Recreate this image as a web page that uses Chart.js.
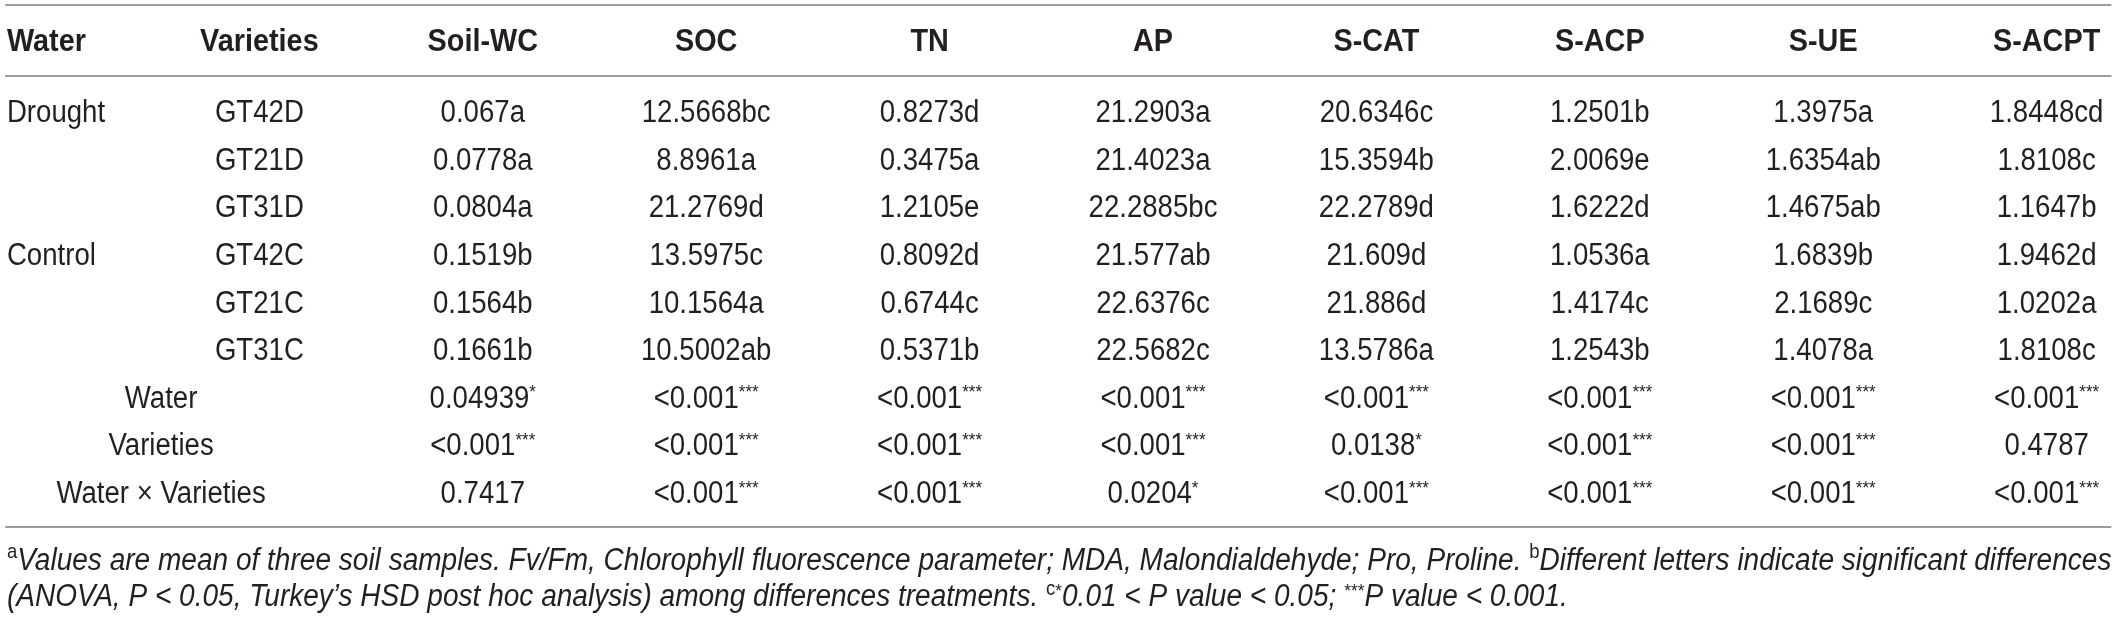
<!DOCTYPE html>
<html>
<head>
<meta charset="utf-8">
<style>
  html, body { margin: 0; padding: 0; background: #fff; }
  #tableChart { display: block; }
</style>
</head>
<body>
<canvas id="tableChart" width="2117" height="618"></canvas>
<script src="https://cdn.jsdelivr.net/npm/chart.js@4.4.1/dist/chart.umd.min.js"></script>
<script>
// table content
const columns = ['Water', 'Varieties', 'Soil-WC', 'SOC', 'TN', 'AP', 'S-CAT', 'S-ACP', 'S-UE', 'S-ACPT'];
const waterLevels = ['Drought', '', '', 'Control', '', ''];
const varieties = ['GT42D', 'GT21D', 'GT31D', 'GT42C', 'GT21C', 'GT31C'];
const effects = ['Water', 'Varieties', 'Water × Varieties'];

// six treatment means, then p values for Water, Varieties, Water x Varieties
const soilWC = ['0.067a', '0.0778a', '0.0804a', '0.1519b', '0.1564b', '0.1661b', '0.04939*', '<0.001***', '0.7417'];
const soc = ['12.5668bc', '8.8961a', '21.2769d', '13.5975c', '10.1564a', '10.5002ab', '<0.001***', '<0.001***', '<0.001***'];
const tn = ['0.8273d', '0.3475a', '1.2105e', '0.8092d', '0.6744c', '0.5371b', '<0.001***', '<0.001***', '<0.001***'];
const ap = ['21.2903a', '21.4023a', '22.2885bc', '21.577ab', '22.6376c', '22.5682c', '<0.001***', '<0.001***', '0.0204*'];
const sCAT = ['20.6346c', '15.3594b', '22.2789d', '21.609d', '21.886d', '13.5786a', '<0.001***', '0.0138*', '<0.001***'];
const sACP = ['1.2501b', '2.0069e', '1.6222d', '1.0536a', '1.4174c', '1.2543b', '<0.001***', '<0.001***', '<0.001***'];
const sUE = ['1.3975a', '1.6354ab', '1.4675ab', '1.6839b', '2.1689c', '1.4078a', '<0.001***', '<0.001***', '<0.001***'];
const sACPT = ['1.8448cd', '1.8108c', '1.1647b', '1.9462d', '1.0202a', '1.8108c', '<0.001***', '0.4787', '<0.001***'];

const noteLine1 = [
  ['a', 'sup'],
  ['Values are mean of three soil samples. Fv/Fm, Chlorophyll fluorescence parameter; MDA, Malondialdehyde; Pro, Proline. ', 'it'],
  ['b', 'sup'],
  ['Different letters indicate significant differences', 'it']
];
const noteLine2 = [
  ['(ANOVA, P < 0.05, Turkey\u2019s HSD post hoc analysis) among differences treatments. ', 'it'],
  ['c', 'sup'],
  ['*', 'star'],
  ['0.01 < P value < 0.05; ', 'it'],
  ['***', 'star'],
  ['P value < 0.001.', 'it']
];

const valueColumns = [soilWC, soc, tn, ap, sCAT, sACP, sUE, sACPT];

// layout in scale units (x = column index, y = row index)
const waterAnchor = -0.13;    // left edge of first column
const effectAnchor = 0.56;    // centre of the merged Water/Varieties cells
const rowsAt = { topRule: -2.23, header: -1.5, headRule: -0.74, bottomRule: 8.74, note1: 9.4, note2: 10.17 };

const FONT = '"Liberation Sans", Arial, Helvetica, sans-serif';
const TEXT = '#231f20';
const SIZE = 31;

function splitStars(s) {
  const m = s.match(/^(.*?)(\*+)$/);
  return m ? [[m[1], ''], [m[2], 'star']] : [[s, '']];
}

function partFont(kind, bold) {
  if (kind === 'sup') return (SIZE * 0.66) + 'px ' + FONT;
  if (kind === 'star') return (SIZE * 0.62) + 'px ' + FONT;
  return (kind === 'it' ? 'italic ' : '') + (bold ? 'bold ' : '') + SIZE + 'px ' + FONT;
}

function richWidth(ctx, parts, bold) {
  let w = 0;
  parts.forEach(p => { ctx.font = partFont(p[1], bold); w += ctx.measureText(p[0]).width; });
  return w;
}

function drawRich(ctx, parts, x, y, align, hs, bold) {
  const w = richWidth(ctx, parts, bold) * hs;
  let left = x;
  if (align === 'center') left = x - w / 2;
  else if (align === 'right') left = x - w;
  ctx.save();
  ctx.translate(left, y + SIZE * 0.358);
  ctx.scale(hs, 1);
  ctx.fillStyle = TEXT;
  ctx.textBaseline = 'alphabetic';
  ctx.textAlign = 'left';
  let cx = 0;
  parts.forEach(p => {
    ctx.font = partFont(p[1], bold);
    let dy = 0;
    if (p[1] === 'sup') dy = -SIZE * 0.36;
    if (p[1] === 'star') dy = -SIZE * 0.3;
    ctx.fillText(p[0], cx, dy);
    cx += ctx.measureText(p[0]).width;
  });
  ctx.restore();
}

function cellSet(texts, xs, ys, align, bold) {
  return {
    data: texts.map((t, i) => ({ x: xs(i), y: ys(i) })),
    cellText: texts,
    cellAlign: align,
    cellBold: bold,
    pointRadius: 0,
    pointHoverRadius: 0
  };
}

const datasets = [
  cellSet(columns, i => (i === 0 ? waterAnchor : i), () => rowsAt.header, i => (i === 0 ? 'left' : 'center'), true),
  cellSet(waterLevels, () => waterAnchor, i => i, () => 'left', false),
  cellSet(varieties, () => 1, i => i, () => 'center', false),
  cellSet(effects, () => effectAnchor, i => i + 6, () => 'center', false)
];
valueColumns.forEach((col, c) => {
  datasets.push(cellSet(col, () => c + 2, i => i, () => 'center', false));
});

const tablePlugin = {
  id: 'tableText',
  beforeDatasetsDraw(chart) {
    const ctx = chart.ctx;
    const xs = chart.scales.x, ys = chart.scales.y;
    ctx.save();
    ctx.strokeStyle = '#9d9d9d';
    ctx.lineWidth = 2;
    [rowsAt.topRule, rowsAt.headRule, rowsAt.bottomRule].forEach(r => {
      const y = Math.round(ys.getPixelForValue(r));
      ctx.beginPath();
      ctx.moveTo(xs.getPixelForValue(-0.138), y);
      ctx.lineTo(xs.getPixelForValue(9.29), y);
      ctx.stroke();
    });
    ctx.restore();
  },
  afterDatasetsDraw(chart) {
    const ctx = chart.ctx;
    chart.data.datasets.forEach((ds, d) => {
      const meta = chart.getDatasetMeta(d);
      meta.data.forEach((pt, j) => {
        const txt = ds.cellText[j];
        if (!txt) return;
        const hs = ds.cellBold ? 0.93 : 0.89;
        drawRich(ctx, splitStars(txt), pt.x, pt.y, ds.cellAlign(j), hs, ds.cellBold);
      });
    });
    // footnotes
    const xs = chart.scales.x, ys = chart.scales.y;
    const left = xs.getPixelForValue(waterAnchor);
    const right = xs.getPixelForValue(9.29);
    const hs = (right - left) / richWidth(ctx, noteLine1, false);
    drawRich(ctx, noteLine1, left, ys.getPixelForValue(rowsAt.note1), 'left', hs, false);
    drawRich(ctx, noteLine2, left, ys.getPixelForValue(rowsAt.note2), 'left', hs, false);
  }
};

const tableChart = new Chart(document.getElementById('tableChart'), {
  type: 'scatter',
  data: { datasets: datasets },
  options: {
    responsive: false,
    animation: false,
    devicePixelRatio: 1,
    layout: { padding: 0 },
    plugins: {
      legend: { display: false },
      tooltip: { enabled: false }
    },
    events: [],
    scales: {
      x: { type: 'linear', display: false, min: -0.161, max: 9.315 },
      y: { type: 'linear', display: false, reverse: true, min: -2.332, max: 10.651 }
    }
  },
  plugins: [tablePlugin]
});
</script>
</body>
</html>
